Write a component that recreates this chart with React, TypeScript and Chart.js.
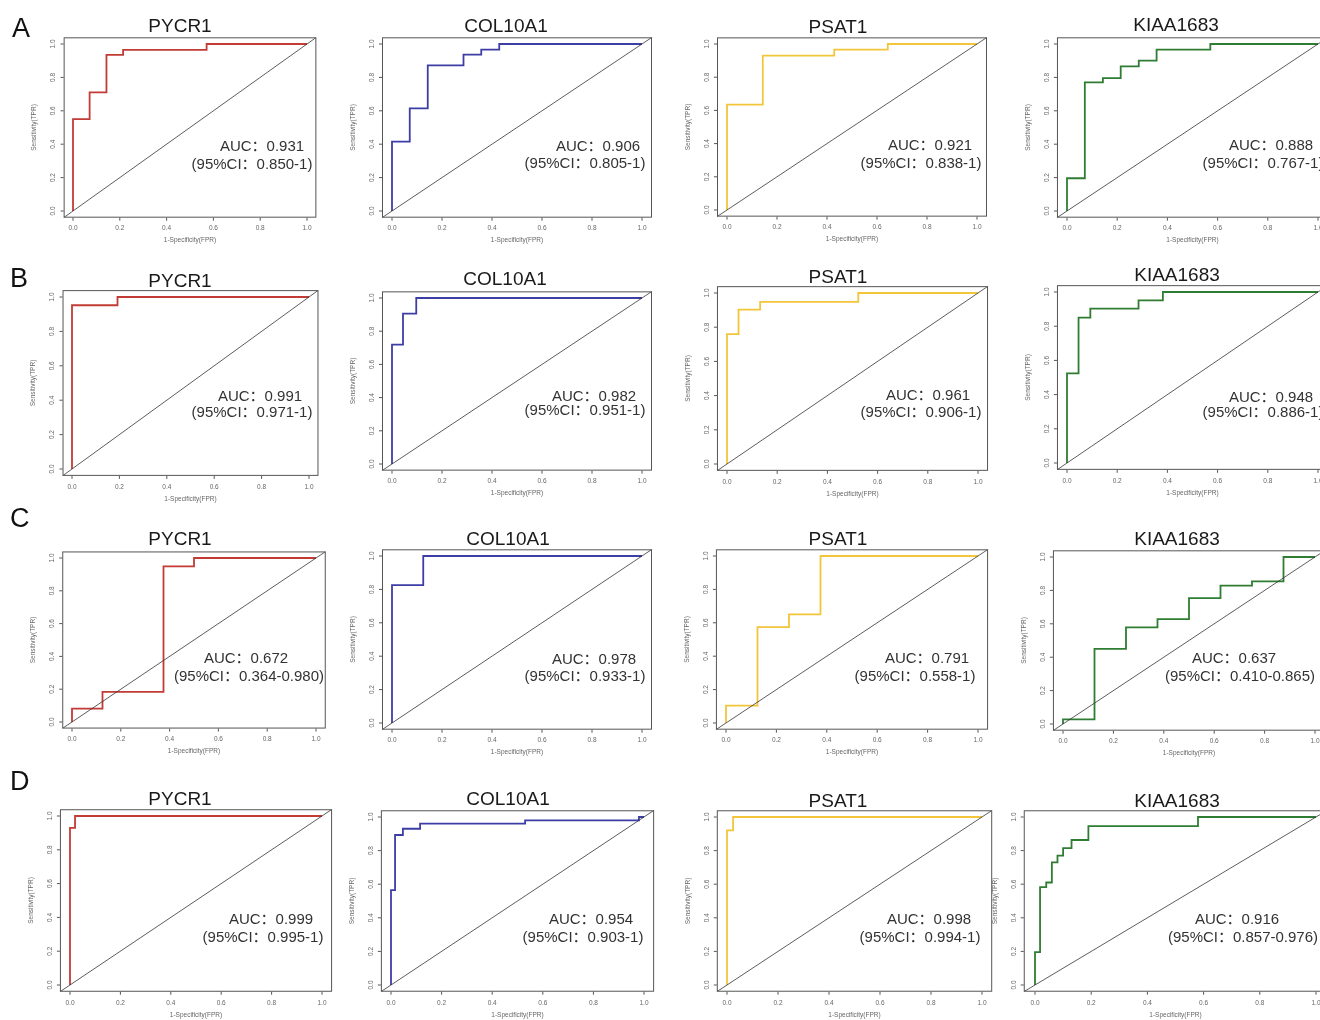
import React, { useEffect, useRef } from "react";
import { Chart, registerables } from "chart.js";
Chart.register(...registerables);

// ---------- data ----------
const genes = ["PYCR1", "COL10A1", "PSAT1", "KIAA1683"];
const rowLetters = ["A", "B", "C", "D"];
const tickValues = [0, 0.2, 0.4, 0.6, 0.8, 1.0];
const tickLabels = ["0.0", "0.2", "0.4", "0.6", "0.8", "1.0"];
const xAxisTitle = "1-Specificity(FPR)";
const yAxisTitle = "Sensitivity(TPR)";
const diagonal = [-0.04, 1.04];

// ROC operating points (FPR, TPR) per row, one list per gene
const fprA = [
  [0, 0, 0.071, 0.143, 0.214, 0.571, 1],
  [0, 0, 0.071, 0.143, 0.286, 0.357, 0.429, 1],
  [0, 0, 0.143, 0.429, 0.643, 1],
  [0, 0, 0.071, 0.143, 0.214, 0.286, 0.357, 0.571, 1],
];
const tprA = [
  [0, 0.55, 0.71, 0.935, 0.965, 1, 1],
  [0, 0.415, 0.615, 0.872, 0.936, 0.966, 1, 1],
  [0, 0.635, 0.93, 0.966, 1, 1],
  [0, 0.196, 0.77, 0.796, 0.866, 0.9, 0.966, 1, 1],
];
const fprB = [
  [0, 0, 0.192, 1],
  [0, 0, 0.044, 0.097, 1],
  [0, 0, 0.046, 0.132, 0.523, 1],
  [0, 0, 0.046, 0.093, 0.285, 0.382, 1],
];
const tprB = [
  [0, 0.952, 1, 1],
  [0, 0.719, 0.906, 1, 1],
  [0, 0.759, 0.903, 0.948, 1, 1],
  [0, 0.524, 0.85, 0.903, 0.951, 1, 1],
];
const fprC = [
  [0, 0, 0.125, 0.375, 0.5, 1],
  [0, 0, 0.125, 1],
  [0, 0, 0.125, 0.25, 0.375, 1],
  [0, 0, 0.125, 0.25, 0.375, 0.5, 0.625, 0.75, 0.875, 1],
];
const tprC = [
  [0, 0.082, 0.184, 0.949, 1, 1],
  [0, 0.826, 1, 1],
  [0, 0.104, 0.574, 0.651, 1, 1],
  [0, 0.028, 0.45, 0.578, 0.628, 0.754, 0.828, 0.854, 1, 1],
];
const fprD = [
  [0, 0, 0.02, 1],
  [0, 0, 0.016, 0.047, 0.115, 0.53, 0.98, 1],
  [0, 0, 0.024, 1],
  [0, 0, 0.018, 0.04, 0.06, 0.08, 0.1, 0.13, 0.19, 0.58, 1],
];
const tprD = [
  [0, 0.93, 1, 1],
  [0, 0.565, 0.893, 0.93, 0.96, 0.98, 1, 1],
  [0, 0.92, 1, 1],
  [0, 0.196, 0.583, 0.61, 0.73, 0.77, 0.815, 0.863, 0.946, 1, 1],
];

const aucA = ["0.931", "0.906", "0.921", "0.888"];
const ciA = ["0.850-1", "0.805-1", "0.838-1", "0.767-1"];
const aucB = ["0.991", "0.982", "0.961", "0.948"];
const ciB = ["0.971-1", "0.951-1", "0.906-1", "0.886-1"];
const aucC = ["0.672", "0.978", "0.791", "0.637"];
const ciC = ["0.364-0.980", "0.933-1", "0.558-1", "0.410-0.865"];
const aucD = ["0.999", "0.954", "0.998", "0.916"];
const ciD = ["0.995-1", "0.903-1", "0.994-1", "0.857-0.976"];

const fprRows = [fprA, fprB, fprC, fprD];
const tprRows = [tprA, tprB, tprC, tprD];
const aucRows = [aucA, aucB, aucC, aucD];
const ciRows = [ciA, ciB, ciC, ciD];

// ---------- styles / layout ----------
const geneColors = ["#c23b35", "#3d3da6", "#f3c53a", "#2f7d32"];
const FONT = "'Liberation Sans', Arial, 'Noto Sans CJK SC', sans-serif";

const cellX = [0, 330, 660, 985];
const cellW = [335, 335, 335, 345];
const cellY = [0, 250, 498, 760];
const cellH = [255, 255, 265, 260];

// pixel positions of value 0 and 1 on each axis: [x0, x1, y1, y0]
const boxPx = [
  [[73, 307, 44, 211], [392, 642, 44, 211], [727, 977, 44, 210], [1067, 1318, 44, 211]],
  [[72, 309, 297, 469], [392, 642, 298, 464], [727, 978, 293, 464], [1067, 1318, 292, 463]],
  [[72, 316, 558, 722], [392, 642, 556, 723], [726, 978, 556, 723], [1063, 1315, 557, 724]],
  [[70, 322, 816, 985], [391, 644, 817, 985], [727, 982, 817, 985], [1035, 1316, 817, 985]],
];
const titleXs = [
  [180, 506, 838, 1176],
  [180, 505, 838, 1177],
  [180, 508, 838, 1177],
  [180, 508, 838, 1177],
];
const titleBase = [
  [32, 32, 33, 31],
  [287, 285, 283, 281],
  [545, 545, 545, 545],
  [805, 805, 807, 807],
];
// [aucX, aucBaseline, ciX, ciBaseline]
const aucPos = [
  [[262, 151, 252, 169], [598, 151, 585, 168], [930, 150, 921, 168], [1271, 150, 1263, 168]],
  [[260, 401, 252, 417], [594, 401, 585, 415], [928, 400, 921, 417], [1271, 402, 1263, 417]],
  [[246, 663, 249, 681], [594, 664, 585, 681], [927, 663, 915, 681], [1234, 663, 1240, 681]],
  [[271, 924, 263, 942], [591, 924, 583, 942], [929, 924, 920, 942], [1237, 924, 1243, 942]],
];
const letterPos = [[12, 37], [10, 287], [10, 527], [10, 790]];

const decorPlugin = {
  id: "decor",
  afterDatasetsDraw(chart: any, _args: any, o: any) {
    const { ctx, chartArea: a, scales } = chart;
    const xs = scales.x;
    const ys = scales.y;
    ctx.save();
    ctx.strokeStyle = "#555";
    ctx.lineWidth = 1;
    ctx.strokeRect(a.left + 0.5, a.top + 0.5, a.right - a.left - 1, a.bottom - a.top - 1);
    ctx.fillStyle = "#666";
    ctx.font = `6.5px ${FONT}`;
    tickValues.forEach((v, i) => {
      const px = xs.getPixelForValue(v);
      ctx.beginPath();
      ctx.moveTo(px, a.bottom);
      ctx.lineTo(px, a.bottom + 3);
      ctx.stroke();
      ctx.textAlign = "center";
      ctx.textBaseline = "middle";
      ctx.fillText(tickLabels[i], px, a.bottom + 11);
      const py = ys.getPixelForValue(v);
      ctx.beginPath();
      ctx.moveTo(a.left, py);
      ctx.lineTo(a.left - 3, py);
      ctx.stroke();
      ctx.save();
      ctx.translate(a.left - 10, py);
      ctx.rotate(-Math.PI / 2);
      ctx.fillText(tickLabels[i], 0, 0);
      ctx.restore();
    });
    ctx.font = `6.5px ${FONT}`;
    ctx.fillText(xAxisTitle, (a.left + a.right) / 2, a.bottom + 23);
    ctx.save();
    ctx.translate(a.left - 29, (a.top + a.bottom) / 2);
    ctx.rotate(-Math.PI / 2);
    ctx.fillText(yAxisTitle, 0, 0);
    ctx.restore();

    const ox = o.ox;
    const oy = o.oy;
    ctx.fillStyle = "#1a1a1a";
    ctx.font = `19px ${FONT}`;
    ctx.textAlign = "center";
    ctx.textBaseline = "alphabetic";
    ctx.fillText(o.title, o.titleX - ox, o.titleY - oy);

    ctx.fillStyle = "#333";
    ctx.font = `15px ${FONT}`;
    ctx.fillText(`AUC：${o.auc}`, o.aucX - ox, o.aucY - oy);
    ctx.fillText(`(95%CI：${o.ci})`, o.ciX - ox, o.ciY - oy);

    if (o.letter) {
      ctx.fillStyle = "#111";
      ctx.font = `27px ${FONT}`;
      ctx.textAlign = "left";
      ctx.fillText(o.letter, o.letterX - ox, o.letterY - oy);
    }
    ctx.restore();
  },
};

const cells: { r: number; c: number }[] = [];
for (let r = 0; r < 4; r++) for (let c = 0; c < 4; c++) cells.push({ r, c });

export default function App() {
  const refs = useRef<(HTMLCanvasElement | null)[]>([]);

  useEffect(() => {
    const charts: Chart[] = [];
    cells.forEach(({ r, c }, idx) => {
      const canvas = refs.current[idx];
      if (!canvas) return;
      const [x0, x1, y1, y0] = boxPx[r][c];
      const sx = (x1 - x0) * 0.04;
      const sy = (y0 - y1) * 0.04;
      const cx = cellX[c];
      const cy = cellY[r];
      const padding = {
        left: x0 - sx - cx,
        right: cx + cellW[c] - (x1 + sx),
        top: y1 - sy - cy,
        bottom: cy + cellH[r] - (y0 + sy),
      };
      const fpr = fprRows[r][c];
      const tpr = tprRows[r][c];
      const pos = aucPos[r][c];
      const chart = new Chart(canvas, {
        type: "line",
        data: {
          datasets: [
            {
              data: diagonal.map((v) => ({ x: v, y: v })),
              borderColor: "#333",
              borderWidth: 0.8,
              pointRadius: 0,
              fill: false,
            },
            {
              data: fpr.map((f, i) => ({ x: f, y: tpr[i] })),
              borderColor: geneColors[c],
              borderWidth: 1.8,
              pointRadius: 0,
              fill: false,
              stepped: "before",
            },
          ],
        },
        options: {
          responsive: false,
          animation: false,
          events: [],
          layout: { padding },
          scales: {
            x: { type: "linear", min: -0.04, max: 1.04, display: false },
            y: { type: "linear", min: -0.04, max: 1.04, display: false },
          },
          plugins: {
            legend: { display: false },
            tooltip: { enabled: false },
            decor: {
              ox: cx,
              oy: cy,
              title: genes[c],
              titleX: titleXs[r][c],
              titleY: titleBase[r][c],
              auc: aucRows[r][c],
              ci: ciRows[r][c],
              aucX: pos[0],
              aucY: pos[1],
              ciX: pos[2],
              ciY: pos[3],
              letter: c === 0 ? rowLetters[r] : "",
              letterX: letterPos[r][0],
              letterY: letterPos[r][1],
            },
          } as any,
        },
        plugins: [decorPlugin],
      });
      charts.push(chart);
    });
    return () => charts.forEach((ch) => ch.destroy());
  }, []);

  return (
    <div
      style={{
        position: "absolute",
        left: 0,
        top: 0,
        width: 1320,
        height: 1020,
        overflow: "hidden",
        background: "#fff",
      }}
    >
      {cells.map(({ r, c }, idx) => (
        <canvas
          key={idx}
          ref={(el) => {
            refs.current[idx] = el;
          }}
          width={cellW[c]}
          height={cellH[r]}
          style={{
            position: "absolute",
            left: cellX[c],
            top: cellY[r],
            width: cellW[c],
            height: cellH[r],
          }}
        />
      ))}
    </div>
  );
}
